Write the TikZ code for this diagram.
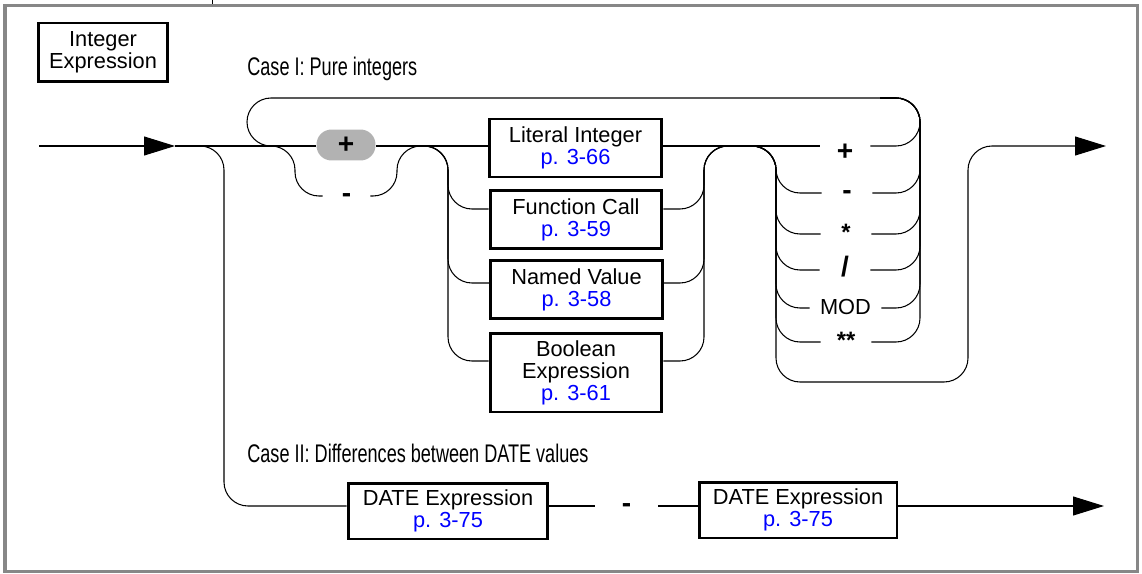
\documentclass[tikz,border=0pt]{standalone}
\usepackage{fontspec}
\setmainfont{Liberation Sans}
\newfontfamily\narrowfont[FakeStretch=0.71]{Liberation Sans}
\usetikzlibrary{arrows.meta,positioning}

\newcommand{\seepage}[1]{\textcolor{blue}{#1}}

\begin{document}
\begin{tikzpicture}[
    x=0.02cm, y=-0.02cm,
    font=\fontsize{12.4}{12.5}\selectfont,
    rail/.style={line width=0.6pt, rounded corners=0.48cm},
    railarrow/.style={rail, -{Triangle[length=0.62cm, width=0.38cm]}},
    syntaxbox/.style={
        draw,
        line width=1.7pt,
        minimum width=3.44cm,
        minimum height=1.16cm,
        align=center,
        inner sep=2pt
    },
    opsym/.style={
        font=\fontsize{16}{16}\selectfont\bfseries,
        minimum width=1cm,
        inner xsep=0.2cm,
        inner ysep=0pt,
        text height=1.6ex,
        text depth=0.3ex
    },
    starsym/.style={opsym, font=\fontsize{13.5}{14}\selectfont\bfseries},
    keyword/.style={opsym, font=\fontsize{12.4}{12.5}\selectfont},
    casenote/.style={font=\narrowfont\fontsize{14.5}{15}\selectfont, anchor=base west, inner sep=0pt},
    signpill/.style={fill=black!30, rounded corners=0.3cm, minimum width=1.18cm,
        minimum height=0.62cm, inner sep=0pt, font=\fontsize{16}{16}\selectfont\bfseries}
]

% Frame
\useasboundingbox (0,0) rectangle (1142,574);
\draw[line width=2.2pt, black!47] (5,5.5) rectangle (1137.5,571.5);
\draw[line width=0.5pt] (212,0) -- (212,4);

% Title
\node[syntaxbox, minimum width=2.6cm, minimum height=1.18cm] (title) at (103,52.5) {Integer\\Expression};

% Case notes
\node[casenote] (case1) at (247,76) {Case I: Pure integers};
\node[casenote] (case2) at (247,462) {Case II: Differences between DATE values};

% Entry
\coordinate (start) at (39,146);
\coordinate (entry) at (175,146);
\draw[railarrow] (start) -- (entry);

% Sign
\node[signpill] (plus) at (346,145) {\raisebox{-1.5pt}{+}};
\node[opsym, minimum width=0.94cm] (minus) at (346.5,196) {-};

% Alternatives
\node[syntaxbox] (literal) at (575.5,148) {Literal Integer\\\seepage{p. 3-66}};
\node[syntaxbox] (fcall) at (576,219.5) {Function Call\\\seepage{p. 3-59}};
\node[syntaxbox] (named) at (576.5,289.5) {Named Value\\\seepage{p. 3-58}};
\node[syntaxbox, minimum height=1.58cm] (bool) at (576,372.5) {Boolean\\Expression\\\seepage{p. 3-61}};

% Operators
\node[opsym] (opplus) at (845,146) {\raisebox{-5pt}{+}};
\node[opsym] (opminus) at (847,193) {-};
\node[starsym] (optimes) at (846,234) {*};
\node[opsym] (opdiv) at (845,270) {/};
\node[keyword] (opmod) at (845.5,308) {MOD};
\node[starsym] (oppow) at (846,342) {**};

% Junctions
\coordinate (altin) at (421,146);
\coordinate (altout) at (752,146);
\coordinate (exit) at (1106,146);

% Main rail
\draw[rail] (entry) -- (plus.west |- entry);
\draw[rail] (plus.east |- entry) -- (literal.west |- entry);
\draw[rail] (literal.east |- entry) -- (opplus);
\draw[rail] (minus.east) -- (397,196) -- (397,146) -- (literal.west |- entry);

\foreach \alt/\y in {fcall/209, named/283, bool/361} {
    \draw[rail] (altin) -- (448,146) -- (448,\y) -- (\alt.west |- 0,\y);
    \draw[rail] (\alt.east |- 0,\y) -- (704,\y) -- (704,146) -- (altout);
}

\foreach \op in {opminus, optimes, opdiv, opmod, oppow}
    \draw[rail] (altout) -- (776,146) -- (776,146 |- \op.west) -- (\op.west);

\foreach \op in {opplus, opminus, optimes, opdiv, opmod}
    \draw[rail] (\op.east) -- (920,0 |- \op.east) -- (920,98) -- (880,98);

% Loop back
\draw[rail] (oppow.east) -- (920,342) -- (920,98) -- (247,98) -- (247,146)
    -- (295,146) -- (295,196) -- (minus.west);

% Exit
\draw[railarrow] (altout) -- (776,146) -- (776,382) -- (968,382) -- (968,146) -- (exit);

% Case II
\node[syntaxbox, minimum width=4cm, minimum height=1.12cm] (date1) at (448,511) {DATE Expression\\\seepage{p. 3-75}};
\node[opsym, minimum width=1.26cm] (dminus) at (626.5,506) {-};
\node[syntaxbox, minimum width=3.96cm, minimum height=1.12cm] (date2) at (798,510) {DATE Expression\\\seepage{p. 3-75}};
\coordinate (exit2) at (1104,506);

\draw[rail] (entry) -- (224,146) -- (224,506) -- (date1.west |- 0,506);
\draw[rail] (date1.east |- 0,506) -- (dminus);
\draw[rail] (dminus) -- (date2.west |- 0,506);
\draw[railarrow] (date2.east |- 0,506) -- (exit2);

\end{tikzpicture}
\end{document}
